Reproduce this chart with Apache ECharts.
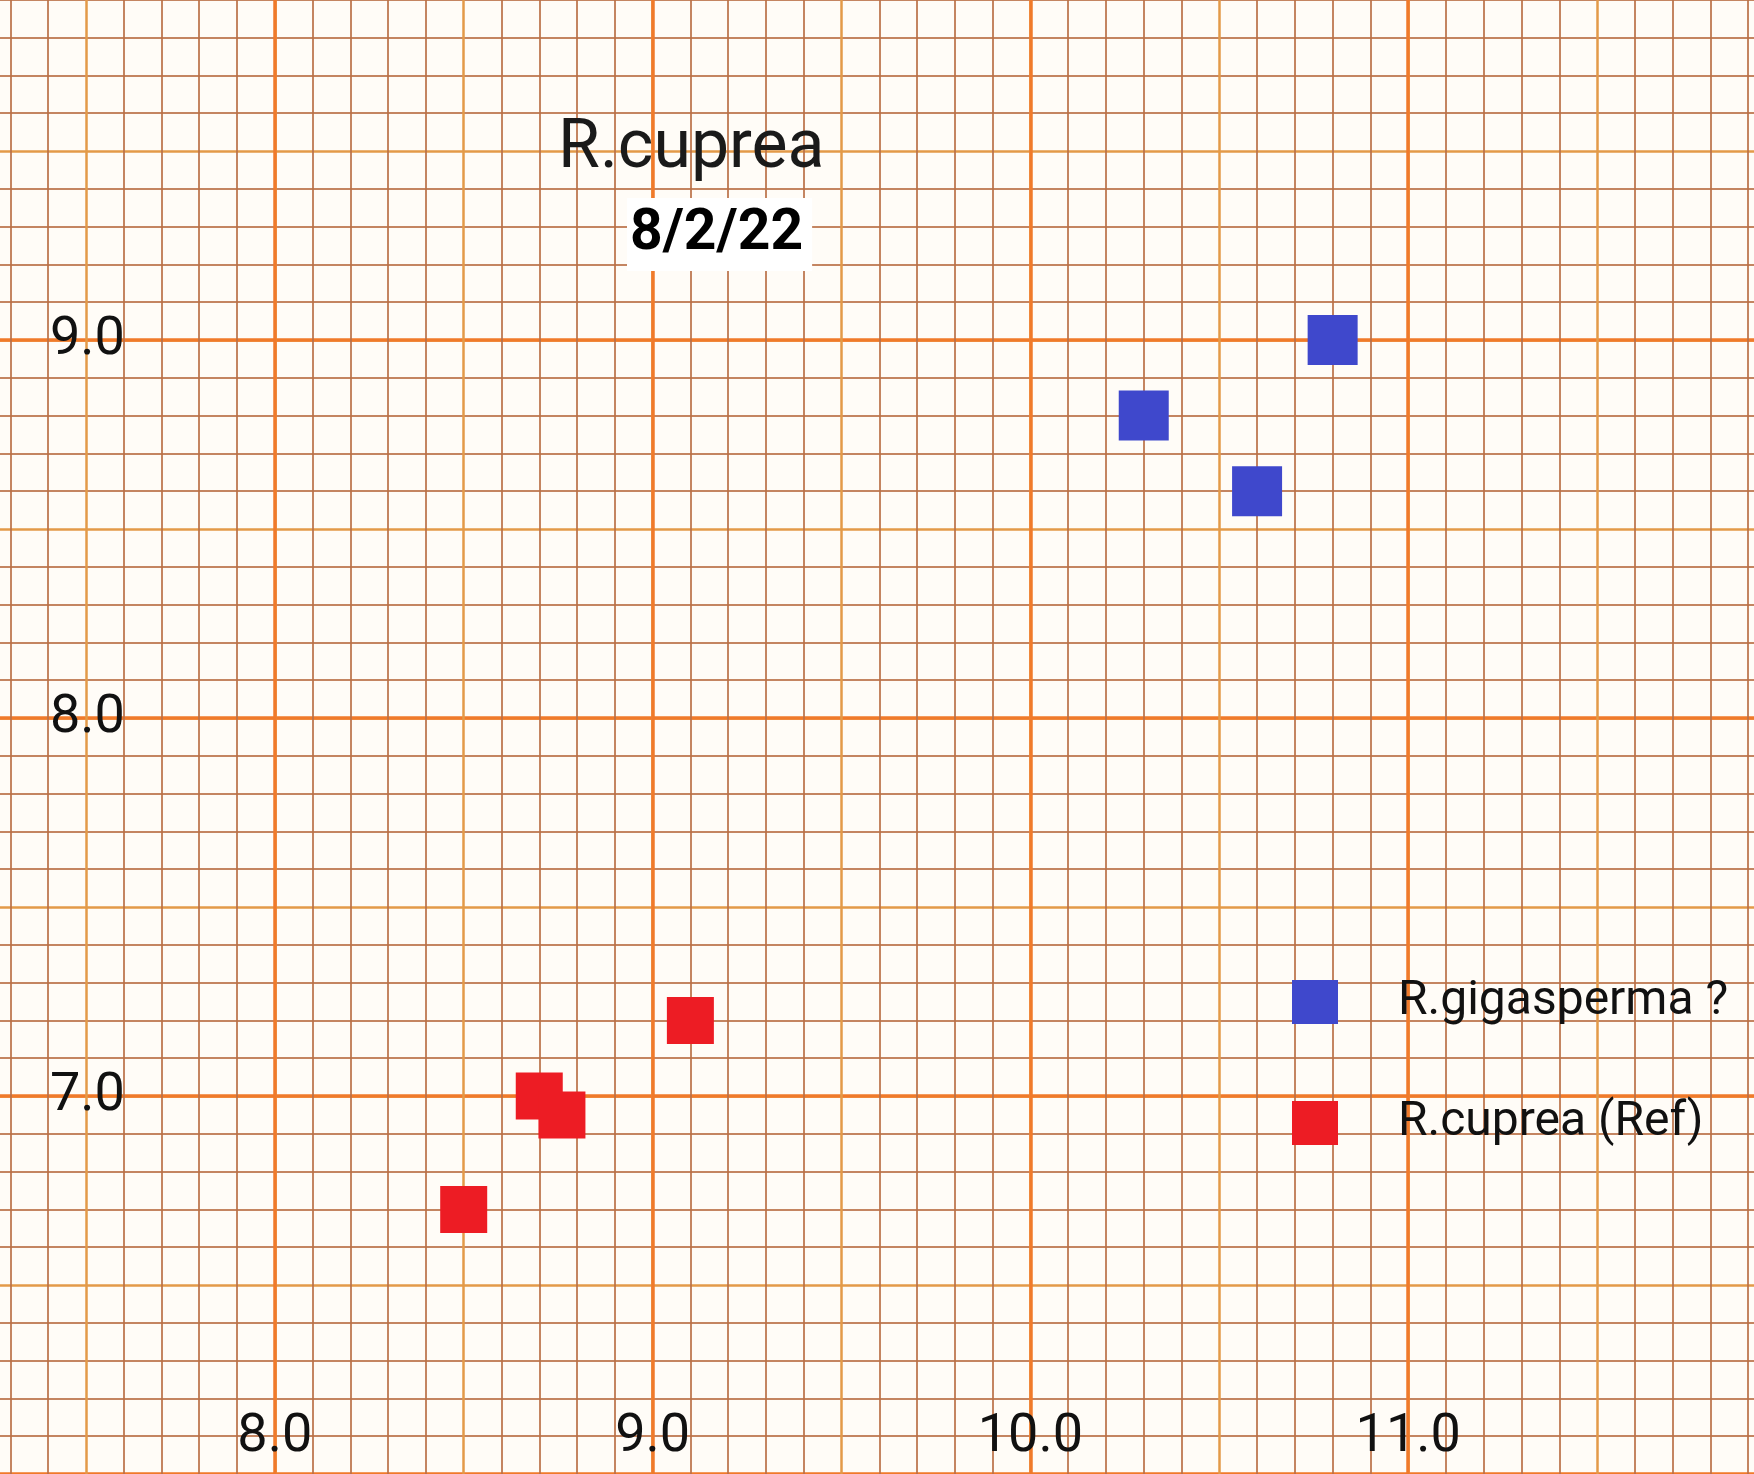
<!DOCTYPE html>
<html><head><meta charset="utf-8">
<script src="https://cdn.jsdelivr.net/npm/echarts@6/dist/echarts.min.js"></script>
<style>
html,body{margin:0;padding:0;background:#fffcf7;width:1754px;height:1474px;overflow:hidden;position:relative}
#c{position:absolute;left:-106px;top:-38px;width:1895px;height:1512px}
</style>
</head><body><div id="c"></div>
<script>
// ---- data ----
const seriesNames = ['R.gigasperma ?', 'R.cuprea (Ref)'];
const gigaspermaData = [[10.8, 9.0], [10.3, 8.8], [10.6, 8.6]];
const cupreaData = [[9.1, 7.2], [8.7, 7.0], [8.76, 6.95], [8.5, 6.7]];
const xTickLabels = ['8.0', '9.0', '10.0', '11.0'];
const yTickLabels = ['7.0', '8.0', '9.0'];
const titleText = 'R.cuprea';
const dateText = '8/2/22';

// the chart canvas is offset (-106, -38) so that the paper grid extends past the window edges
const OX = 106, OY = 38;
const minorColor = 'rgba(186,112,70,0.85)';
const midColor = '#e39a48';
const majorColor = '#f07a2a';
const font = 'Roboto, "Noto Sans", sans-serif';

function fmt(list) {
  return function (v) { const s = (+v).toFixed(1); return list.indexOf(s) >= 0 ? s : ''; };
}
function gridAxis(min, max) {
  return {
    type: 'value', min: min, max: max, interval: 0.5,
    axisLine: {show: false}, axisTick: {show: false}, axisLabel: {show: false},
    splitLine: {show: true, lineStyle: {color: midColor, width: 2.5}},
    minorTick: {show: false, splitNumber: 5},
    minorSplitLine: {show: true, lineStyle: {color: minorColor, width: 2}}
  };
}

const chart = echarts.init(document.getElementById('c'), null, {renderer: 'canvas'});
chart.setOption({
  backgroundColor: '#fffcf7',
  animation: false,
  title: [
    {text: titleText, left: 558 + OX, top: 116 + OY, padding: 0,
     textStyle: {fontSize: 68, fontWeight: 'normal', color: '#1a1a1a', fontFamily: font, lineHeight: 68}},
    {text: dateText, left: 627 + OX, top: 198 + OY, padding: [6, 9, 6, 3], backgroundColor: '#ffffff',
     textStyle: {fontSize: 57, fontWeight: 'bold', color: '#000', fontFamily: font, lineHeight: 61}}
  ],
  legend: {
    orient: 'vertical', left: 1292 + OX, top: 977 + OY, padding: 0,
    itemWidth: 46, itemHeight: 44, itemGap: 71, icon: 'rect',
    data: seriesNames,
    textStyle: {fontSize: 48, lineHeight: 44, color: '#111', fontFamily: font, padding: [6, 0, 0, 55]}
  },
  grid: {left: 0, right: 0, top: 0, bottom: 0, containLabel: false},
  xAxis: [
    gridAxis(7, 12),
    {type: 'value', min: 7, max: 12, interval: 1, position: 'bottom',
     axisLine: {show: false}, axisTick: {show: false},
     axisLabel: {inside: true, margin: 10, formatter: fmt(xTickLabels), fontSize: 54, color: '#111', fontFamily: font},
     splitLine: {show: true, lineStyle: {color: majorColor, width: 3.5}}}
  ],
  yAxis: [
    gridAxis(6, 10),
    {type: 'value', min: 6, max: 10, interval: 1, position: 'left',
     axisLine: {show: false}, axisTick: {show: false},
     axisLabel: {inside: true, margin: 47 + OX, align: 'left', formatter: fmt(yTickLabels), fontSize: 54, color: '#111', fontFamily: font},
     splitLine: {show: true, lineStyle: {color: majorColor, width: 3.5}}}
  ],
  series: [
    {name: seriesNames[0], type: 'scatter', xAxisIndex: 1, yAxisIndex: 1, symbol: 'rect', symbolSize: 50,
     itemStyle: {color: '#3f48cc', opacity: 1}, data: gigaspermaData, z: 5},
    {name: seriesNames[1], type: 'scatter', xAxisIndex: 1, yAxisIndex: 1, symbol: 'rect', symbolSize: 47,
     itemStyle: {color: '#ed1c24', opacity: 1}, data: cupreaData, z: 5}
  ]
});
</script>
</body></html>
